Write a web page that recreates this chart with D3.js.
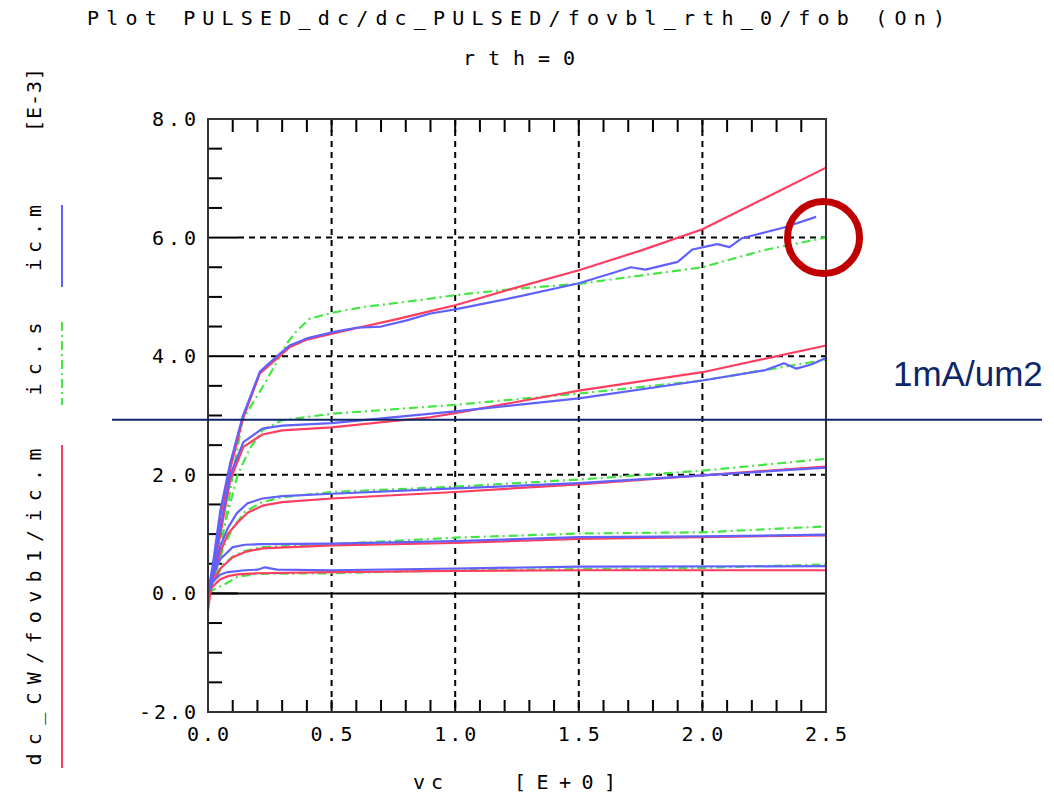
<!DOCTYPE html>
<html>
<head>
<meta charset="utf-8">
<script src="https://cdn.jsdelivr.net/npm/d3@7"></script>
<style>
  body { margin: 0; background: #fff; }
  text { font-family: "DejaVu Sans Mono", monospace; fill: #000; }
</style>
</head>
<body>
<div id="chart"></div>
<script>
// axis ticks
var yMajor = [-2, 0, 2, 4, 6, 8];
var xMajor = [0, 0.5, 1.0, 1.5, 2.0, 2.5];

// curves: [vc, ic (E-3)]
// family 1 (top)
var red1 = [[0,-0.3],[0.02,0.4],[0.05,1.3],[0.09,2.1],[0.14,2.93],[0.21,3.71],[0.29,4.0],[0.33,4.15],[0.40,4.28],[0.51,4.39],[0.63,4.5],[0.76,4.62],[0.9,4.76],[1.0,4.86],[1.25,5.16],[1.5,5.45],[1.75,5.78],[2.0,6.14],[2.25,6.66],[2.5,7.18]];
var blue1 = [[0,0],[0.02,0.5],[0.05,1.4],[0.09,2.2],[0.14,2.98],[0.21,3.74],[0.29,4.04],[0.33,4.18],[0.40,4.3],[0.51,4.41],[0.6,4.48],[0.7,4.5],[0.8,4.6],[0.9,4.72],[1.0,4.79],[1.25,5.0],[1.5,5.23],[1.65,5.42],[1.71,5.5],[1.77,5.46],[1.9,5.59],[1.96,5.8],[2.06,5.89],[2.11,5.84],[2.16,5.99],[2.33,6.17],[2.46,6.35]];
var green1 = [[0,0],[0.03,0.4],[0.07,1.2],[0.1,2.0],[0.14,2.93],[0.237,3.59],[0.318,4.21],[0.36,4.43],[0.41,4.63],[0.51,4.74],[0.63,4.83],[0.9,4.97],[1.0,5.03],[1.25,5.14],[1.5,5.22],[1.75,5.36],[2.0,5.5],[2.25,5.79],[2.5,6.0]];
// family 2
var red2 = [[0,-0.2],[0.02,0.3],[0.05,1.0],[0.09,1.91],[0.143,2.47],[0.22,2.68],[0.3,2.75],[0.5,2.8],[0.9,2.97],[1.0,3.04],[1.5,3.42],[2.0,3.73],[2.5,4.18]];
var blue2 = [[0,0],[0.02,0.4],[0.05,1.1],[0.09,2.0],[0.143,2.55],[0.22,2.78],[0.3,2.83],[0.5,2.87],[1.0,3.07],[1.5,3.29],[2.0,3.59],[2.25,3.76],[2.33,3.88],[2.38,3.79],[2.44,3.86],[2.5,3.97]];
var green2 = [[0,0],[0.03,0.4],[0.07,1.2],[0.12,2.0],[0.17,2.45],[0.22,2.75],[0.3,2.92],[0.5,3.03],[1.0,3.18],[1.5,3.37],[2.0,3.59],[2.5,3.94]];
// family 3
var red3 = [[0,-0.1],[0.02,0.25],[0.05,0.7],[0.08,1.0],[0.116,1.18],[0.16,1.36],[0.22,1.48],[0.3,1.54],[0.5,1.6],[1.0,1.71],[1.5,1.84],[2.0,1.99],[2.5,2.14]];
var blue3 = [[0,0],[0.02,0.3],[0.05,0.8],[0.08,1.1],[0.116,1.35],[0.16,1.52],[0.22,1.6],[0.3,1.64],[0.5,1.68],[1.0,1.77],[1.5,1.86],[2.0,1.99],[2.5,2.12]];
var green3 = [[0,0],[0.03,0.3],[0.06,0.75],[0.1,1.1],[0.15,1.38],[0.22,1.54],[0.3,1.62],[0.5,1.71],[1.0,1.8],[1.5,1.92],[2.0,2.07],[2.5,2.27]];
// family 4
var red4 = [[0,0],[0.02,0.2],[0.05,0.42],[0.1,0.61],[0.15,0.7],[0.22,0.76],[0.5,0.81],[1.0,0.85],[1.5,0.92],[2.0,0.95],[2.5,0.98]];
var blue4 = [[0,0],[0.02,0.3],[0.05,0.58],[0.1,0.78],[0.15,0.82],[0.22,0.83],[0.5,0.84],[1.0,0.88],[1.5,0.95],[2.0,0.96],[2.5,0.99]];
var green4 = [[0,0],[0.03,0.25],[0.06,0.48],[0.1,0.62],[0.15,0.72],[0.22,0.78],[0.5,0.83],[1.0,0.94],[1.5,1.01],[2.0,1.03],[2.5,1.13]];
// family 5 (bottom)
var red5 = [[0,0],[0.02,0.12],[0.05,0.24],[0.08,0.29],[0.12,0.32],[0.2,0.34],[0.5,0.36],[1.0,0.38],[1.5,0.39],[2.5,0.39]];
var blue5 = [[0,0],[0.02,0.2],[0.05,0.32],[0.08,0.36],[0.15,0.39],[0.2,0.4],[0.23,0.44],[0.28,0.4],[0.5,0.39],[1.0,0.42],[1.5,0.45],[2.5,0.46]];
var green5 = [[0,0],[0.03,0.08],[0.075,0.17],[0.12,0.28],[0.2,0.33],[0.5,0.34],[1.0,0.39],[1.5,0.41],[2.0,0.43],[2.5,0.49]];

var greens = [green1, green2, green3, green4, green5];
var reds = [red1, red2, red3, red4, red5];
var blues = [blue1, blue2, blue3, blue4, blue5];

var densityLevel = 2.93;   // 1mA/um2 marker
var circleAt = [2.49, 6.0];

var RED = "#ff3d60", BLUE = "#6060ff", GREEN = "#44e644", NAVY = "#0c2668";
var FS = 20;

var W = 1054, H = 795;
var margin = { top: 119, right: 228, bottom: 83, left: 208 };

var svg = d3.select("#chart").append("svg")
    .attr("width", W).attr("height", H);

var x = d3.scaleLinear().domain([0, 2.5]).range([margin.left, W - margin.right]);
var y = d3.scaleLinear().domain([-2, 8]).range([H - margin.bottom, margin.top]);

// grid
var grid = svg.append("g").attr("stroke", "#000").attr("stroke-width", 2);
grid.selectAll(".vg").data(xMajor.slice(1, -1)).enter().append("line")
    .attr("x1", d => x(d)).attr("x2", d => x(d))
    .attr("y1", y(8)).attr("y2", y(-2))
    .attr("stroke-dasharray", "6,5");
grid.selectAll(".hg").data([2, 4, 6]).enter().append("line")
    .attr("x1", x(0) + 30).attr("x2", x(2.5))
    .attr("y1", d => y(d)).attr("y2", d => y(d))
    .attr("stroke-dasharray", "6,5");
grid.append("line")
    .attr("x1", x(0)).attr("x2", x(2.5))
    .attr("y1", y(0)).attr("y2", y(0));

// ticks
var ticks = svg.append("g").attr("stroke", "#000").attr("stroke-width", 2);
var yMinor = d3.range(-2, 8.01, 0.5).filter(v => yMajor.indexOf(v) < 0);
ticks.selectAll(".ymin").data(yMinor).enter().append("line")
    .attr("x1", x(0)).attr("x2", x(0) + 14)
    .attr("y1", d => y(d)).attr("y2", d => y(d));
ticks.selectAll(".ymaj").data(yMajor.slice(1, -1)).enter().append("line")
    .attr("x1", x(0)).attr("x2", x(0) + 30)
    .attr("y1", d => y(d)).attr("y2", d => y(d));
var xMinor = d3.range(1, 25).map(i => i / 10);
ticks.selectAll(".xtop").data(xMinor).enter().append("line")
    .attr("x1", d => x(d)).attr("x2", d => x(d))
    .attr("y1", y(8)).attr("y2", y(8) + 13);
ticks.selectAll(".xbot").data(xMinor).enter().append("line")
    .attr("x1", d => x(d)).attr("x2", d => x(d))
    .attr("y1", y(-2)).attr("y2", y(-2) - 12);

// curves
var line = d3.line().x(d => x(d[0])).y(d => y(d[1]));
var curves = svg.append("g").attr("fill", "none").attr("stroke-width", 2.2)
    .attr("stroke-linejoin", "round");
curves.selectAll(".g").data(greens).enter().append("path")
    .attr("d", line).attr("stroke", GREEN).attr("stroke-dasharray", "9,4,2,4");
curves.selectAll(".r").data(reds).enter().append("path")
    .attr("d", line).attr("stroke", RED);
curves.selectAll(".b").data(blues).enter().append("path")
    .attr("d", line).attr("stroke", BLUE);

// frame
svg.append("rect")
    .attr("x", x(0)).attr("y", y(8))
    .attr("width", x(2.5) - x(0)).attr("height", y(-2) - y(8))
    .attr("fill", "none").attr("stroke", "#333").attr("stroke-width", 2);

// tick labels
var fmt = d3.format(".1f");
svg.selectAll(".yl").data(yMajor).enter().append("text")
    .attr("x", 196).attr("y", d => y(d))
    .attr("text-anchor", "end").attr("dominant-baseline", "central")
    .attr("font-size", FS)
    .attr("textLength", d => d < 0 ? 57 : 44).attr("lengthAdjust", "spacing")
    .text(d => d < 0 ? "-" + fmt(-d) : fmt(d));
svg.selectAll(".xl").data(xMajor).enter().append("text")
    .attr("x", d => x(d)).attr("y", 734)
    .attr("text-anchor", "middle").attr("dominant-baseline", "central")
    .attr("font-size", FS)
    .attr("textLength", 42).attr("lengthAdjust", "spacing")
    .text(d => fmt(d));

// titles
svg.append("text").attr("x", 516).attr("y", 18)
    .attr("text-anchor", "middle").attr("dominant-baseline", "central")
    .attr("font-size", FS).attr("textLength", 858).attr("lengthAdjust", "spacing")
    .text("Plot PULSED_dc/dc_PULSED/fovbl_rth_0/fob (On)");
svg.append("text").attr("x", 519).attr("y", 58)
    .attr("text-anchor", "middle").attr("dominant-baseline", "central")
    .attr("font-size", FS).attr("textLength", 112).attr("lengthAdjust", "spacing")
    .text("rth=0");
svg.append("text").attr("x", 428).attr("y", 782)
    .attr("text-anchor", "middle").attr("dominant-baseline", "central")
    .attr("font-size", FS).attr("textLength", 30).attr("lengthAdjust", "spacing")
    .text("vc");
svg.append("text").attr("x", 565).attr("y", 782)
    .attr("text-anchor", "middle").attr("dominant-baseline", "central")
    .attr("font-size", FS).attr("textLength", 102).attr("lengthAdjust", "spacing")
    .text("[E+0]");

// rotated y labels with legend swatches
var yLabels = [
    { t: "[E-3]", c: 100, len: 64 },
    { t: "ic.m", c: 238, len: 66 },
    { t: "ic.s", c: 359, len: 73 },
    { t: "dc_CW/fovb1/ic.m", c: 607, len: 317 }
];
svg.selectAll(".ylab").data(yLabels).enter().append("text")
    .attr("transform", d => "translate(34," + d.c + ") rotate(-90)")
    .attr("text-anchor", "middle").attr("dominant-baseline", "central")
    .attr("font-size", FS)
    .attr("textLength", d => d.len).attr("lengthAdjust", "spacing")
    .text(d => d.t);
var swatches = [
    { y1: 205, y2: 287, c: BLUE, dash: null },
    { y1: 322, y2: 405, c: GREEN, dash: "9,4,2,4" },
    { y1: 445, y2: 768, c: RED, dash: null }
];
svg.selectAll(".sw").data(swatches).enter().append("line")
    .attr("x1", 62).attr("x2", 62)
    .attr("y1", d => d.y1).attr("y2", d => d.y2)
    .attr("stroke", d => d.c).attr("stroke-width", 2)
    .attr("stroke-dasharray", d => d.dash);

// annotations
svg.append("line")
    .attr("x1", 112).attr("x2", 1042)
    .attr("y1", y(densityLevel)).attr("y2", y(densityLevel))
    .attr("stroke", NAVY).attr("stroke-width", 2);
svg.append("text")
    .attr("x", 893).attr("y", 386)
    .style("font-family", "'Liberation Sans', Arial, sans-serif")
    .style("fill", NAVY)
    .attr("font-size", 35)
    .text("1mA/um2");
svg.append("circle")
    .attr("cx", x(circleAt[0])).attr("cy", y(circleAt[1]))
    .attr("r", 36)
    .attr("fill", "none").attr("stroke", "#c00000").attr("stroke-width", 7);
</script>
</body>
</html>
